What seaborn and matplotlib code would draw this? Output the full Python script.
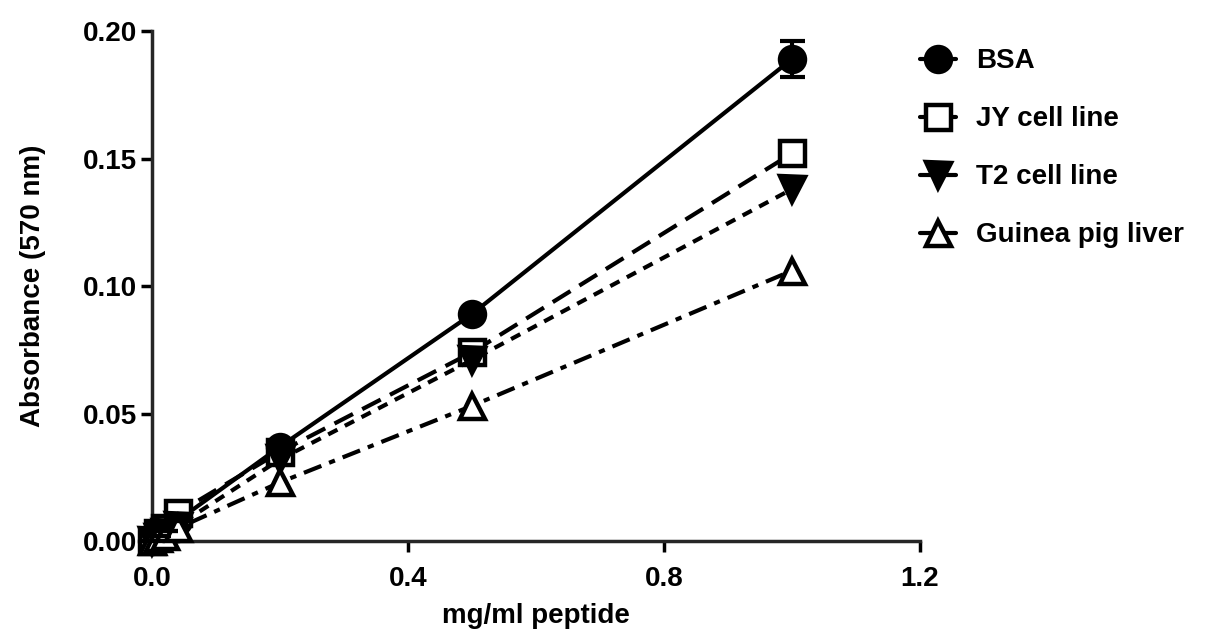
import matplotlib
matplotlib.use("Agg")
import matplotlib.pyplot as plt
import seaborn as sns
import numpy as np

# peptide concentration (mg/ml)
conc = [0.0, 0.01, 0.02, 0.04, 0.2, 0.5, 1.0]

bsa = [0.000, 0.002, 0.004, 0.008, 0.037, 0.089, 0.189]
bsa_sd = [0.0, 0.0, 0.0, 0.0, 0.001, 0.001, 0.007]
jy = [0.000, 0.003, 0.005, 0.011, 0.035, 0.074, 0.152]
t2 = [0.000, 0.001, 0.003, 0.006, 0.032, 0.071, 0.138]
guinea = [0.000, 0.001, 0.002, 0.005, 0.023, 0.053, 0.106]

labels = ["BSA", "JY cell line", "T2 cell line", "Guinea pig liver"]
x_ticks = [0.0, 0.4, 0.8, 1.2]
y_ticks = [0.00, 0.05, 0.10, 0.15, 0.20]

sns.set_style("ticks")
plt.rcParams["font.family"] = ["Liberation Sans", "DejaVu Sans"]
plt.rcParams["font.weight"] = "bold"
plt.rcParams["text.color"] = "black"
plt.rcParams["axes.labelcolor"] = "black"
plt.rcParams["xtick.color"] = "black"
plt.rcParams["ytick.color"] = "black"

fig = plt.figure(figsize=(12.13, 6.35), dpi=100)
ax = fig.add_axes([0.1253, 0.148, 0.633, 0.803])

lw = 3.0
series = [
    (bsa, labels[0], "o", "black", None),
    (jy, labels[1], "s", "white", (5, 2.5)),
    (t2, labels[2], "v", "black", (2.5, 2)),
    (guinea, labels[3], "^", "white", (4.5, 2, 1.5, 2)),
]

for vals, lab, mk, fc, dash in series:
    sns.lineplot(x=conc, y=vals, ax=ax, color="black", linewidth=lw,
                 marker=mk, markersize=18, markerfacecolor=fc,
                 markeredgecolor="black", markeredgewidth=3.2, label=lab,
                 clip_on=False, zorder=3)
    if dash is not None:
        ax.lines[-1].set_dashes(dash)

ax.errorbar(conc, bsa, yerr=bsa_sd, fmt="none", ecolor="black",
            elinewidth=3, capsize=9, capthick=3, clip_on=False, zorder=4)

ax.set_xlim(0, 1.2)
ax.set_ylim(0, 0.2)
ax.set_xticks(x_ticks)
ax.set_xticklabels([f"{v:.1f}" for v in x_ticks])
ax.set_yticks(y_ticks)
ax.set_yticklabels([f"{v:.2f}" for v in y_ticks])
ax.tick_params(axis="both", width=2.5, length=8, labelsize=20)
ax.tick_params(axis="x", pad=10)
ax.tick_params(axis="y", pad=3)
for side in ["left", "bottom"]:
    ax.spines[side].set_linewidth(2.5)
sns.despine(ax=ax)

ax.set_xlabel("mg/ml peptide", fontsize=20, fontweight="bold", labelpad=8)
ax.set_ylabel("Absorbance (570 nm)", fontsize=20, fontweight="bold", labelpad=26)

leg = ax.legend(loc="upper left", bbox_to_anchor=(0.968, 1.015), frameon=False,
                fontsize=20, handlelength=1.3, handletextpad=0.7,
                labelspacing=1.15, markerscale=1.0)
for h in leg.legend_handles:
    h.set_linestyle("-")

fig.savefig("out.png", dpi=100)
